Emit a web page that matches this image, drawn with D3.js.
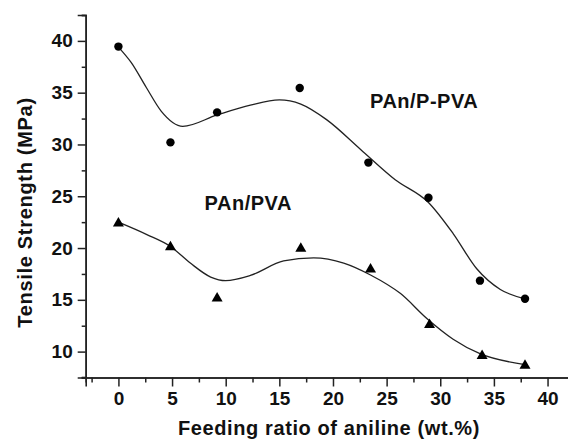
<!DOCTYPE html>
<html><head><meta charset="utf-8">
<script src="https://cdn.jsdelivr.net/npm/d3@7"></script>
<style>
html,body{margin:0;padding:0;background:#fff;}
svg{display:block;}
text{font-family:"Liberation Sans",Arial,sans-serif;font-weight:bold;fill:#111;}
</style></head><body>
<svg id="c" width="568" height="442"></svg>
<script>
// ---- data ----
const ppvaX = [0, 4.85, 9.2, 16.9, 23.3, 28.9, 33.7, 37.9];
const ppvaY = [39.45, 30.2, 33.1, 35.45, 28.25, 24.85, 16.85, 15.1];
const pvaX  = [0, 4.85, 9.2, 17.0, 23.5, 29.0, 33.9, 37.9];
const pvaY  = [22.55, 20.25, 15.3, 20.1, 18.1, 12.75, 9.75, 8.8];
// fitted curves
const ppvaFitX = [0, 1.2, 2.6, 4.0, 6.0, 9.2, 12.3, 15.0, 17.0, 19.4, 22.6, 25.8, 28.9, 31.2, 33.4, 35.6, 37.9];
const ppvaFitY = [39.4, 37.9, 35.5, 33.2, 31.75, 32.85, 33.8, 34.3, 33.9, 32.4, 29.5, 26.6, 24.4, 21.4, 18.0, 16.0, 15.1];
const pvaFitX = [0, 2.65, 4.85, 6.7, 8.6, 10.0, 12.3, 15.4, 18.2, 21, 23.5, 26.3, 28.75, 31.2, 33.7, 37.9];
const pvaFitY = [22.5, 21.3, 20.15, 18.55, 17.2, 16.85, 17.35, 18.75, 19.05, 18.55, 17.4, 15.6, 13.2, 11.2, 9.8, 8.75];
const xTicks = [0, 5, 10, 15, 20, 25, 30, 35, 40];
const yTicks = [10, 15, 20, 25, 30, 35, 40];
const xMinor = [-2.5, 2.5, 7.5, 12.5, 17.5, 22.5, 27.5, 32.5, 37.5];
const yMinor = [7.5, 12.5, 17.5, 22.5, 27.5, 32.5, 37.5, 42.5];
const labels = [
  {text: "PAn/P-PVA", x: 28.5, y: 33.5},
  {text: "PAn/PVA", x: 12.1, y: 23.7}
];

const svg = d3.select("#c");
const x = d3.scaleLinear().domain([-3.05, 42]).range([85.7, 569]);
const y = d3.scaleLinear().domain([7.5, 42.5]).range([377.5, 15]);

// axes
const xAxisMajor = d3.axisBottom(x).tickValues(xTicks).tickSize(9).tickPadding(5).tickFormat(d3.format("d"));
const xAxisMinor = d3.axisBottom(x).tickValues(xMinor).tickSize(5).tickFormat("");
const yAxisMajor = d3.axisLeft(y).tickValues(yTicks).tickSize(8).tickPadding(5).tickFormat(d3.format("d"));
const yAxisMinor = d3.axisLeft(y).tickValues(yMinor).tickSize(4).tickFormat("");

function styleAxis(g) {
  g.select(".domain").attr("stroke", "#222").attr("stroke-width", 1.6);
  g.selectAll(".tick line").attr("stroke", "#222").attr("stroke-width", 1.5);
  g.selectAll(".tick text").style("font-size", "19px").attr("fill", "#111");
}
svg.append("g").attr("transform", `translate(0,${y(7.5)})`).call(xAxisMinor).call(styleAxis);
svg.append("g").attr("transform", `translate(0,${y(7.5)})`).call(xAxisMajor).call(styleAxis);
svg.append("g").attr("transform", `translate(${x(-3.05)},0)`).call(yAxisMinor).call(styleAxis);
svg.append("g").attr("transform", `translate(${x(-3.05)},0)`).call(yAxisMajor).call(styleAxis);

// axis line small extension left at bottom
svg.append("line").attr("x1", 81.7).attr("x2", x(-3.05)).attr("y1", y(7.5)).attr("y2", y(7.5)).attr("stroke", "#222").attr("stroke-width", 1.6);

// axis titles
svg.append("text").attr("x", 329).attr("y", 435).attr("text-anchor", "middle")
  .style("font-size", "20px").style("letter-spacing", "0.6px").text("Feeding ratio of aniline (wt.%)");
svg.append("text").attr("transform", "translate(32,212.5) rotate(-90)").attr("text-anchor", "middle")
  .style("font-size", "20px").style("letter-spacing", "0.7px").text("Tensile Strength (MPa)");

// fit curves
const line = d3.line().x(d => x(d[0])).y(d => y(d[1])).curve(d3.curveMonotoneX);
svg.append("path").datum(ppvaFitX.map((v, i) => [v, ppvaFitY[i]])).attr("d", line)
  .attr("fill", "none").attr("stroke", "#222").attr("stroke-width", 1.3);
svg.append("path").datum(pvaFitX.map((v, i) => [v, pvaFitY[i]])).attr("d", line)
  .attr("fill", "none").attr("stroke", "#222").attr("stroke-width", 1.3);

// markers
svg.append("g").selectAll("circle").data(ppvaX.map((v, i) => [v, ppvaY[i]])).join("circle")
  .attr("cx", d => x(d[0])).attr("cy", d => y(d[1])).attr("r", 4.2).attr("fill", "#000");
const tw = 11, th = 9.5;
svg.append("g").selectAll("path").data(pvaX.map((v, i) => [v, pvaY[i]])).join("path")
  .attr("d", d => { const cx = x(d[0]), cy = y(d[1]);
    return `M${cx},${cy - th/2}L${cx + tw/2},${cy + th/2}L${cx - tw/2},${cy + th/2}Z`; })
  .attr("fill", "#000");

// series labels
svg.append("g").selectAll("text").data(labels).join("text")
  .attr("x", d => x(d.x)).attr("y", d => y(d.y)).attr("text-anchor", "middle")
  .style("font-size", "20px").style("letter-spacing", "0.5px").text(d => d.text);
</script></body></html>
